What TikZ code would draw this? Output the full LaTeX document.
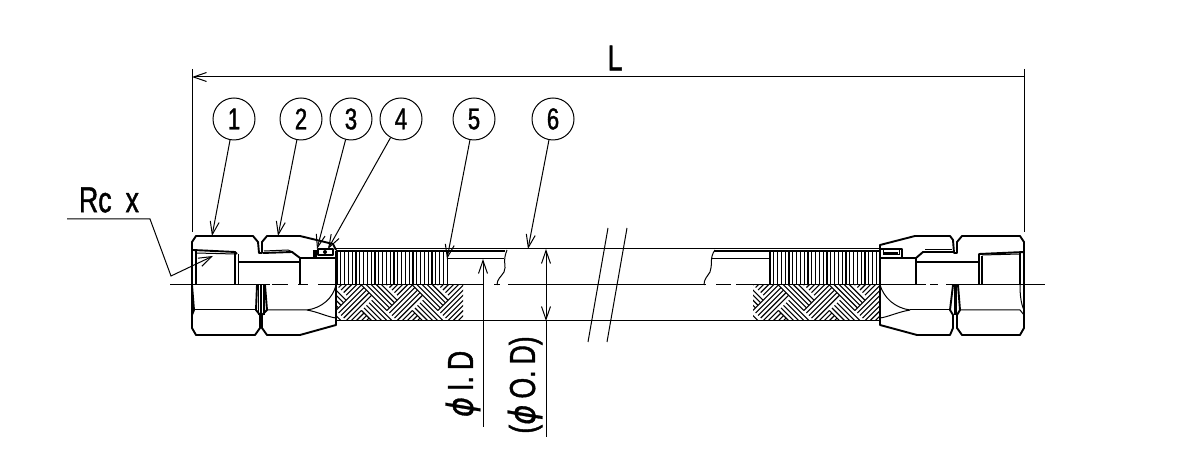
\documentclass[tikz,border=0pt]{standalone}
\usepackage{fontspec}
\setmainfont{Liberation Sans}[FakeStretch=0.74,FakeBold=1.2]
\newfontfamily\phifont{DejaVu Sans}[FakeStretch=0.85,FakeBold=0.8]
\usetikzlibrary{arrows.meta}
\tikzset{
  outline/.style={line width=0.95pt,line join=round},
  fine/.style={line width=0.5pt},
  hatch/.style={line width=0.55pt},
  dimline/.style={line width=0.5pt,{Straight Barb[length=6.5pt,width=4.5pt]}-{Straight Barb[length=6.5pt,width=4.5pt]}},
  leader/.style={line width=0.5pt,-{Straight Barb[length=6.5pt,width=4.5pt]}},
  balloon/.style={draw,circle,line width=0.5pt,inner sep=0pt,minimum size=21pt,font=\fontsize{15}{15}\selectfont},
  bigtext/.style={inner sep=0pt,font=\fontsize{18}{18}\selectfont},
  braid/.pic={
    \foreach \t in {0,3.6,7.2,10.8,14.4}{
      \draw[hatch] (0,\t) -- ++(36,0);
      \draw[hatch] (36+\t,0) -- ++(0,36);
    }
  }
}
\newcommand{\herringbone}[2]{
  \begin{scope}
    \clip (#1,285) rectangle (#2,321);
    \begin{scope}[shift={(#1,285)},rotate=45]
      \foreach \k in {-5,...,12}
        \foreach \m in {-2,...,2}
          \pic[transform shape] at ({\k*18+\m*36},{-\k*18+\m*36}) {braid};
    \end{scope}
  \end{scope}
}
\begin{document}
\begin{tikzpicture}[x=0.5pt,y=-0.5pt]
  \useasboundingbox (0,0) rectangle (1200,469);
  % braid
  \herringbone{336}{463}
  \herringbone{753}{880}
  \foreach \x in {337,340.8,...,448} \draw[hatch] (\x,251) -- (\x,285);
  \foreach \x in {770,773.8,...,880} \draw[hatch] (\x,251) -- (\x,285);
  % tube
  \draw[fine] (336,249) -- (880,249);
  \draw[fine] (336,321) -- (880,321);
  \draw[outline] (336,251) -- (505,251);
  \draw[outline] (714,251) -- (880,251);
  \draw[fine] (448,259) -- (504,259);
  \draw[fine] (712,259) -- (770,259);
  \draw[fine] (507,250) .. controls (502,262) and (507,266) .. (504,272) .. controls (501,277) and (497,279) .. (497,285);
  \draw[fine] (715,250) .. controls (709,258) and (713,265) .. (710,272) .. controls (707,277) and (704,279) .. (704,285);
  \draw[fine] (608,228) -- (588,342);
  \draw[fine] (627,228) -- (607,342);
  % left fitting
  \draw[outline] (192,285) -- (192,242) -- (196,236) -- (253,236) -- (258,242) -- (259,253) -- (262,253) -- (262,242) -- (267,236) -- (300,236) -- (333,244) -- (336,250);
  \draw[outline] (192,285) -- (192,328) -- (196,335) -- (255,335) -- (260,328) -- (260,315) -- (256,310) -- (257,285);
  \draw[outline] (192,315) -- (194,310) -- (192,285);
  \draw[fine] (194,310) -- (256,310);
  \draw[outline] (265,285) -- (267,310) -- (262,315) -- (262,328) -- (267,335) -- (300,335) -- (336,325) -- (336,285);
  \draw[fine] (267,310) -- (307,310) .. controls (322,308) and (333,298) .. (336,285);
  \draw[fine] (307,310) .. controls (318,312) and (328,317) .. (336,318);
  \foreach \x in {258.5,260,261.5,263,264.5} \draw[fine] (\x,285) -- (\x,315);
  \draw[outline] (193,250) -- (235,252) -- (237,254);
  \draw[fine] (196,253) -- (235,254);
  \draw[outline] (196,250) -- (196,285);
  \draw[outline] (235,252) -- (235,285);
  \draw[fine] (238,254) -- (238,285);
  \draw[outline] (238,262) -- (300,262);
  \draw[outline] (263,253) -- (292,252) -- (300,258);
  \draw[fine] (264,251) -- (288,250) -- (293,252);
  \draw[outline] (300,258) -- (336,258);
  \draw[outline] (300,258) -- (300,285);
  \draw[line width=1.6pt] (315,250) -- (315,257);
  \draw[outline] (318,249) -- (318,255) -- (333,255) -- (333,249) -- cycle;
  \fill (325,252) circle[radius=2];
  \draw[outline] (336,251) -- (336,285);
  % right fitting
  \draw[outline] (880,285) -- (880,245) -- (915,236) -- (950,236) -- (953,240) -- (954,253) -- (957,253) -- (957,242) -- (962,236) -- (1020,236) -- (1024,242) -- (1024,328) -- (1020,335) -- (962,335) -- (957,328) -- (957,315) -- (960,310) -- (958,285);
  \draw[outline] (953,285) -- (950,310) -- (953,315) -- (953,328) -- (950,335) -- (917,335) -- (880,325) -- (880,285);
  \draw[fine] (910,310) -- (950,310);
  \draw[fine] (960,310) -- (1020,310) -- (1024,315);
  \draw[fine] (1020,285) .. controls (1020,295) and (1021,304) .. (1024,310);
  \draw[fine] (910,310) .. controls (895,308) and (884,298) .. (880,285);
  \draw[fine] (910,310) .. controls (898,312) and (888,317) .. (880,318);
  \foreach \x in {954.5,955.5,956.5} \draw[fine] (\x,285) -- (\x,315);
  \draw[outline] (880,258) -- (916,258) -- (916,285);
  \draw[outline] (916,262) -- (978,262);
  \draw[outline] (916,258) -- (923,252) -- (953,252);
  \draw[fine] (925,250) -- (952,250);
  \draw[outline] (979,285) -- (979,254) -- (1024,252);
  \draw[outline] (982,256) -- (982,285);
  \draw[fine] (982,255) -- (1020,254);
  \draw[outline] (1020,253) -- (1020,285);
  \draw[outline] (880,249) -- (902,249) -- (902,258);
  \draw[fine] (883,249) -- (883,255) -- (899,255) -- (899,249);
  \draw[outline] (884,253) -- (898,253);
  % centre line
  \draw[fine] (170,285) -- (270,285);
  \draw[fine] (272,285) -- (288,285);
  \draw[fine] (298,285) -- (308,285);
  \draw[fine] (318,285) -- (484,285);
  \draw[fine] (494,285) -- (500,285);
  \draw[fine] (508,285) -- (706,285);
  \draw[fine] (716,285) -- (731,285);
  \draw[fine] (736,285) -- (926,285);
  \draw[fine] (930,285) -- (938,285);
  \draw[fine] (946,285) -- (1045,285);
  % length
  \coordinate (lenA) at (192,77);
  \coordinate (lenB) at (1024,77);
  \draw[fine] (192,69) -- (192,232);
  \draw[fine] (1024,69) -- (1024,232);
  \draw[leader] (lenB) -- (lenA);
  \node[bigtext] (lenL) at (615,58) {L};
  % balloons
  \node[balloon] (part1) at (234,119) {1};
  \node[balloon] (part2) at (301,119) {2};
  \node[balloon] (part3) at (351,119) {3};
  \node[balloon] (part4) at (401,119) {4};
  \node[balloon] (part5) at (474,119) {5};
  \node[balloon] (part6) at (553,119) {6};
  \coordinate (tip1) at (212,236);
  \coordinate (tip2) at (278,236);
  \coordinate (tip3) at (317,249);
  \coordinate (tip4) at (328,249);
  \coordinate (tip5) at (447,259);
  \coordinate (tip6) at (528,249);
  \foreach \i in {1,...,6} \draw[leader] (part\i) -- (tip\i);
  % thread
  \node[bigtext] (rcx) at (109,200) {Rc\hspace{7pt}x};
  \coordinate (rcA) at (67,219);
  \coordinate (rcB) at (150,219);
  \coordinate (rcC) at (171,276);
  \coordinate (rcD) at (213,256);
  \draw[leader] (rcA) -- (rcB) -- (rcC) -- (rcD);
  % diameters
  \coordinate (idA) at (483,259);
  \coordinate (idB) at (483,427);
  \coordinate (odA) at (546,249);
  \coordinate (odB) at (546,321);
  \coordinate (odC) at (546,437);
  \draw[leader] (idB) -- (idA);
  \draw[dimline] (odA) -- (odB);
  \draw[fine] (odB) -- (odC);
  \node[bigtext,rotate=90] (idtext) at (463,384) {{\phifont\itshape ϕ}\,I.\,D};
  \node[bigtext,rotate=90] (odtext) at (525,385) {({\phifont\itshape ϕ}\,O.\,D)};
\end{tikzpicture}
\end{document}
